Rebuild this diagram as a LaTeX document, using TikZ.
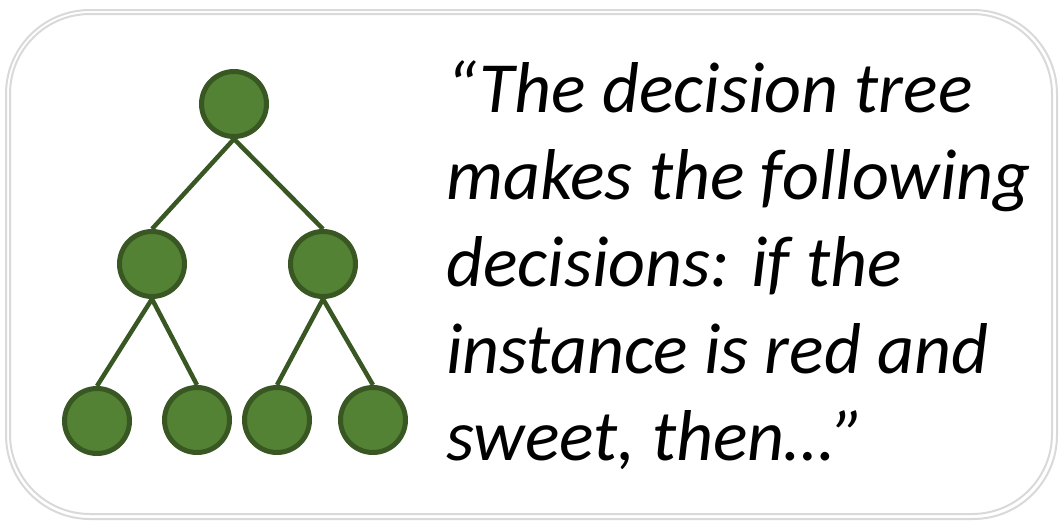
\documentclass[tikz,border=0pt]{standalone}
\usepackage{fontspec}
\setmainfont{Carlito}
\usetikzlibrary{backgrounds}
\definecolor{treefill}{HTML}{548235}
\definecolor{treeline}{HTML}{385723}
\definecolor{frame}{HTML}{D9D9D9}
\tikzset{
  treenode/.style={circle, draw=treeline, fill=treefill, line width=5pt, minimum size=65pt, inner sep=0pt},
  treeedge/.style={draw=treeline, line width=4.5pt},
  quoteline/.style={anchor=base west, inner sep=0pt, font=\fontsize{72}{87}\selectfont\itshape},
  framebox/.style={draw=frame, line width=2pt}
}
\begin{document}
\begin{tikzpicture}[x=1pt, y=-1pt]
\useasboundingbox (0,0) rectangle (1063,528);
\draw[framebox, rounded corners=84pt] (6,10) rectangle (1057,519);
\draw[framebox, rounded corners=80pt] (10,14) rectangle (1052,514);
\node[treenode] (r) at (234,104) {};
\node[treenode] (m1) at (152,264) {};
\node[treenode] (m2) at (323,264) {};
\node[treenode] (l1) at (97,421) {};
\node[treenode] (l2) at (197,420) {};
\node[treenode] (l3) at (277,420) {};
\node[treenode] (l4) at (373,420) {};
\begin{scope}[on background layer]
\draw[treeedge] (r.south) -- (m1.north);
\draw[treeedge] (r.south) -- (m2.north);
\draw[treeedge] (m1.south) -- (l1.north);
\draw[treeedge] (m1.south) -- (l2.north);
\draw[treeedge] (m2.south) -- (l3.north);
\draw[treeedge] (m2.south) -- (l4.north);
\end{scope}
\node[quoteline] (t1) at (446,112) {“The decision tree};
\node[quoteline] (t2) at (446,199) {makes the following};
\node[quoteline] (t3) at (446,286) {decisions: if the};
\node[quoteline] (t4) at (446,373) {instance is red and};
\node[quoteline] (t5) at (446,460) {sweet, then…”};
\end{tikzpicture}
\end{document}
